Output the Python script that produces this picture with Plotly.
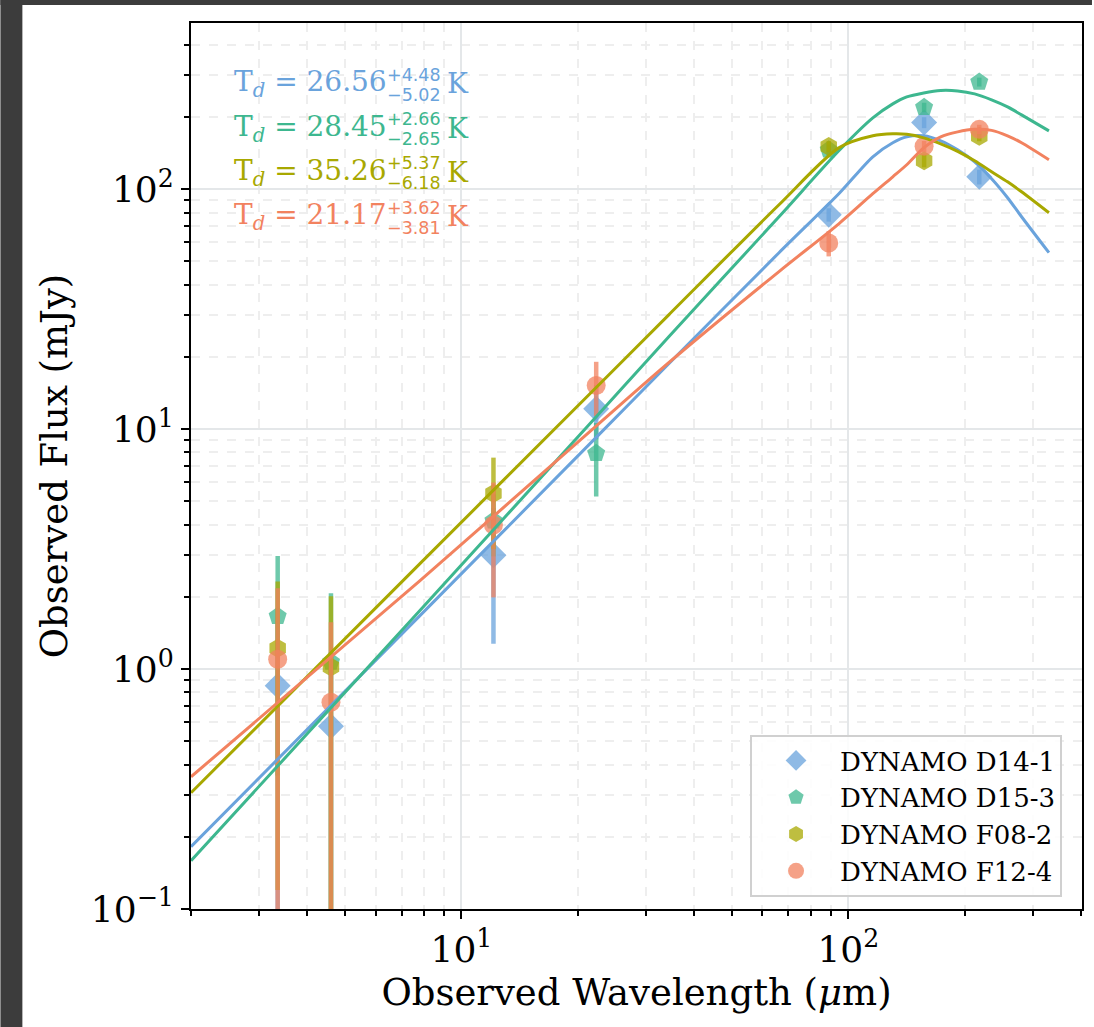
import plotly.graph_objects as go

# ---------------- data ----------------
names = ["DYNAMO D14-1", "DYNAMO D15-3", "DYNAMO F08-2", "DYNAMO F12-4"]
wavelength = [3.35, 4.6, 12.1, 22.3, 89, 157, 218]

flux_d14 = [0.853, 0.578, 2.985, 12.17, 78.3, 189.7, 112.7]
err_d14 = [0.9, 0.6, 1.71, 3.1, 5.0, 10.0, 8.0]
flux_d15 = [1.66, 1.07, 4.15, 7.93, 146, 219.5, 280]
err_d15 = [1.3, 1.0, 1.2, 2.69, 8.0, 10.0, 12.0]
flux_f08 = [1.22, 1.02, 5.39, None, 150.7, 131.4, 166.5]
err_f08 = [1.1, 0.99, 2.22, None, 8.0, 8.0, 8.0]
flux_f12 = [1.10, 0.727, 3.99, 15.22, 59.7, 151, 177.7]
err_f12 = [1.075, 0.84, 2.0, 3.87, 7.2, 8.0, 8.0]

fit_wavelength = [2.0, 7.79, 22.7, 34.4, 66.2, 94.5, 115.7, 130.3, 141.6, 156.6,
                  173.3, 191.7, 212.1, 234.6, 258, 280.4, 330]
fit_d14 = [0.1818, 1.663, 9.515, 18.78, 54.4, 95.8, 136.6, 156.2, 165.4, 167.0,
           159.2, 146.0, 130.1, 110.6, 92.2, 76.8, 54.4]
fit_d15 = [0.159, 1.745, 11.63, 24.33, 76.8, 144.6, 198.4, 226.9, 242.6, 252.1,
           258.2, 257.0, 249.7, 235.8, 220.4, 204.2, 175.2]
fit_f08 = [0.305, 2.737, 15.36, 30.04, 86.2, 148.8, 167.0, 170.2, 169.4, 163.8,
           154.7, 143.9, 131.4, 118.3, 107.4, 97.6, 79.8]
fit_f12 = [0.3556, 2.326, 10.57, 18.97, 45.4, 71.8, 95.8, 112.7, 126.5, 148.8,
           165.4, 173.5, 177.7, 176.0, 167.0, 156.2, 132.7]

temps = ["26.56", "28.45", "35.26", "21.17"]
temps_up = ["+4.48", "+2.66", "+5.37", "+3.62"]
temps_lo = ["\u22125.02", "\u22122.65", "\u22126.18", "\u22123.81"]

y_tickvals = [0.1, 1, 10, 100]
y_ticktext = ["10<sup>\u22121</sup>", "10<sup>0</sup>", "10<sup>1</sup>", "10<sup>2</sup>"]
x_tickvals = [10, 100]
x_ticktext = ["10<sup>1</sup>", "10<sup>2</sup>"]

# ---------------- style ----------------
colors = ["#6aa3dc", "#3db78f", "#a8a800", "#f2825f"]
rgba = ["rgba(106,163,220,0.75)", "rgba(61,183,143,0.75)",
        "rgba(168,168,0,0.75)", "rgba(242,130,95,0.75)"]
symbols = ["diamond", "pentagon", "hexagon", "circle"]
msizes = [20, 19, 19, 19]
SERIF = "DejaVu Serif"
SANS = "DejaVu Sans"

fluxes = [flux_d14, flux_d15, flux_f08, flux_f12]
errs = [err_d14, err_d15, err_f08, err_f12]
fits = [fit_d14, fit_d15, fit_f08, fit_f12]

fig = go.Figure()
for i in range(4):
    fig.add_trace(go.Scatter(
        x=wavelength, y=fluxes[i], mode="markers", name=names[i],
        marker=dict(symbol=symbols[i], size=msizes[i], color=rgba[i], line=dict(width=0)),
        error_y=dict(type="data", array=errs[i], visible=True, color=rgba[i],
                     thickness=4.5, width=0),
    ))
for i in range(4):
    fig.add_trace(go.Scatter(
        x=fit_wavelength, y=fits[i], mode="lines", showlegend=False,
        line=dict(color=colors[i], width=3, shape="spline", smoothing=0.8),
    ))

# plot-area pixel geometry for annotation placement
L, R, T, B = 191, 1084, 23, 909
W, H = R - L, B - T


def px(x):
    return (x - L) / W


def py(y):
    return (B - y) / H


ann = []
for i in range(4):
    yc = 84 + 44.2 * i
    ann.append(dict(x=px(389), y=py(yc), xref="paper", yref="paper", xanchor="right",
                    yanchor="middle", showarrow=False,
                    text="T<sub><i>d</i></sub> = " + temps[i],
                    font=dict(family=SERIF, size=28, color=colors[i])))
    ann.append(dict(x=px(385), y=py(yc - 9), xref="paper", yref="paper", xanchor="left",
                    yanchor="middle", showarrow=False, text=temps_up[i],
                    font=dict(family=SANS, size=17.5, color=colors[i])))
    ann.append(dict(x=px(385), y=py(yc + 11), xref="paper", yref="paper", xanchor="left",
                    yanchor="middle", showarrow=False, text=temps_lo[i],
                    font=dict(family=SANS, size=17.5, color=colors[i])))
    ann.append(dict(x=px(446), y=py(yc), xref="paper", yref="paper", xanchor="left",
                    yanchor="middle", showarrow=False, text="K",
                    font=dict(family=SERIF, size=28, color=colors[i])))

shapes = [
    dict(type="rect", xref="paper", yref="paper", x0=px(0), x1=px(22), y0=py(1027), y1=py(0),
         fillcolor="#3c3c3c", line=dict(width=0), layer="below"),
    dict(type="rect", xref="paper", yref="paper", x0=px(0), x1=px(1094), y0=py(5), y1=py(0),
         fillcolor="#3c3c3c", line=dict(width=0), layer="below"),
]

minor_x = [k * 10 ** e for e in range(0, 3) for k in range(2, 10)]
minor_y = [k * 10 ** e for e in range(-1, 3) for k in range(2, 10)]

axis_common = dict(
    type="log", showline=True, linecolor="black", linewidth=2, mirror=True,
    ticks="outside", ticklen=8, tickwidth=2, tickcolor="black",
    showgrid=True, gridcolor="#e4e7e9", gridwidth=2, zeroline=False,
    tickfont=dict(family=SERIF, size=36, color="black"),
    title_font=dict(family=SERIF, size=37, color="black"),
)

fig.update_layout(
    width=1094, height=1027,
    margin=dict(l=L, r=1094 - R, t=T, b=1027 - B),
    paper_bgcolor="white", plot_bgcolor="white",
    xaxis=dict(axis_common, range=[0.301, 2.604], tickmode="array",
               tickvals=x_tickvals, ticktext=x_ticktext,
               title=dict(text="Observed Wavelength (<i>\u03bc</i>m)", standoff=10),
               minor=dict(tickmode="array", tickvals=minor_x, ticks="outside", ticklen=5,
                          tickwidth=1.5, tickcolor="black", showgrid=True,
                          gridcolor="#eeeeee", griddash="dash", gridwidth=1.5)),
    yaxis=dict(axis_common, range=[-1, 2.693], tickmode="array",
               tickvals=y_tickvals, ticktext=y_ticktext,
               title=dict(text="Observed Flux (mJy)", standoff=12),
               minor=dict(tickmode="array", tickvals=minor_y, ticks="outside", ticklen=5,
                          tickwidth=1.5, tickcolor="black", showgrid=True,
                          gridcolor="#eeeeee", griddash="dash", gridwidth=1.5)),
    legend=dict(x=px(1064), y=py(897), xanchor="right", yanchor="bottom",
                bgcolor="rgba(255,255,255,0.85)", bordercolor="#d0d0d0", borderwidth=2,
                font=dict(family=SERIF, size=26, color="black"), itemsizing="trace",
                itemwidth=78),
    annotations=ann, shapes=shapes, showlegend=True,
)

fig.write_html("out.html")
